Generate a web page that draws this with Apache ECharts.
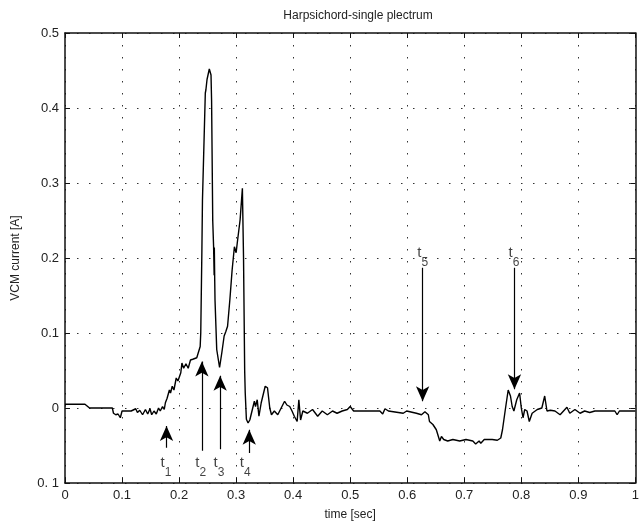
<!DOCTYPE html>
<html>
<head>
<meta charset="utf-8">
<script src="https://cdn.jsdelivr.net/npm/echarts@6/dist/echarts.min.js"></script>
<style>
html,body{margin:0;padding:0;background:#fff;}
#chart{width:642px;height:527px;}
</style>
</head>
<body>
<div id="chart"></div>
<script>
// ---- data ----
var timeVals = [
0.000,0.035,0.043,0.083,0.085,0.089,0.093,0.097,0.100,0.107,0.116,0.124,0.127,0.131,0.136,0.141,0.145,0.149,0.152,0.156,
0.160,0.164,0.167,0.171,0.174,0.176,0.179,0.183,0.185,0.188,0.191,0.195,0.198,0.203,0.205,0.208,0.212,0.216,0.220,0.224,
0.227,0.231,0.234,0.237,0.238,0.240,0.241,0.246,0.247,0.249,0.253,0.256,0.257,0.259,0.2605,0.2615,0.2618,0.2625,0.263,0.265,
0.266,0.271,0.275,0.279,0.282,0.285,0.289,0.293,0.297,0.300,0.302,0.307,0.311,0.313,0.315,0.316,0.318,0.321,0.324,0.327,
0.332,0.334,0.337,0.340,0.344,0.351,0.355,0.359,0.362,0.367,0.373,0.379,0.385,0.389,0.394,0.398,0.402,0.407,0.410,0.413,
0.417,0.425,0.434,0.443,0.451,0.460,0.469,0.477,0.486,0.495,0.500,0.506,0.530,0.552,0.557,0.561,0.567,0.593,0.599,0.616,
0.625,0.631,0.637,0.639,0.645,0.648,0.651,0.654,0.657,0.660,0.664,0.671,0.680,0.692,0.703,0.715,0.720,0.726,0.729,0.735,
0.749,0.758,0.764,0.767,0.772,0.777,0.781,0.784,0.787,0.792,0.797,0.800,0.803,0.806,0.810,0.814,0.819,0.828,0.836,0.841,
0.845,0.851,0.859,0.868,0.874,0.880,0.885,0.894,0.903,0.911,0.920,0.929,0.964,0.968,0.972,1.000
];
var currentVals = [
0.005,0.005,0.000,0.000,-0.007,-0.009,-0.008,-0.013,-0.004,-0.004,-0.004,-0.001,-0.006,-0.003,-0.009,-0.002,-0.008,-0.001,-0.009,-0.004,
-0.008,0.000,-0.004,0.002,-0.002,0.007,0.013,0.024,0.020,0.029,0.024,0.040,0.036,0.047,0.060,0.053,0.059,0.053,0.064,0.065,
0.063,0.067,0.069,0.082,0.100,0.210,0.277,0.420,0.424,0.438,0.452,0.444,0.410,0.250,0.216,0.177,0.214,0.170,0.144,0.100,
0.078,0.054,0.074,0.096,0.102,0.109,0.144,0.184,0.215,0.207,0.220,0.251,0.293,0.200,0.050,0.020,-0.015,-0.020,-0.016,-0.016,
0.009,0.002,0.011,-0.011,0.007,0.029,0.027,0.000,-0.009,-0.004,-0.009,0.000,0.009,0.004,0.002,-0.004,-0.011,-0.018,0.011,-0.016,
-0.004,-0.007,-0.002,-0.011,-0.004,-0.009,-0.004,-0.007,-0.004,-0.002,0.002,-0.004,-0.004,-0.004,-0.008,-0.001,-0.004,-0.007,-0.004,-0.007,
-0.009,-0.005,-0.009,-0.018,-0.022,-0.024,-0.029,-0.027,-0.044,-0.038,-0.042,-0.044,-0.042,-0.044,-0.042,-0.044,-0.048,-0.044,-0.047,-0.042,
-0.042,-0.043,-0.040,-0.029,-0.002,0.024,0.016,0.002,-0.004,0.011,0.020,0.000,-0.013,-0.002,-0.004,-0.018,-0.007,-0.002,0.000,0.016,
-0.004,-0.003,-0.004,-0.009,-0.004,0.001,-0.007,-0.002,-0.007,-0.004,-0.006,-0.004,-0.004,-0.009,-0.004,-0.004
];
var xTicks = [0,0.1,0.2,0.3,0.4,0.5,0.6,0.7,0.8,0.9,1];
var yTicks = [-0.1,0,0.1,0.2,0.3,0.4,0.5];
var yTickLabels = ['0. 1','0','0.1','0.2','0.3','0.4','0.5'];

// annotation arrows (t1..t6)
var arrowX    = [0.178, 0.240, 0.272, 0.323, 0.627, 0.788];
var arrowFrom = [-0.053, -0.057, -0.055, -0.060, 0.187, 0.187];
var arrowTo   = [-0.024, 0.062, 0.043, -0.029, 0.009, 0.025];
var labelX    = [0.177, 0.238, 0.270, 0.316, 0.627, 0.787];
var labelY    = [-0.074, -0.074, -0.074, -0.074, 0.206, 0.206];
var labelSub  = ['1','2','3','4','5','6'];

// ---- build ----
var lineData = timeVals.map(function(t,i){return [t,currentVals[i]];});
var arrowData = arrowX.map(function(x,i){
  return [{coord:[x,arrowFrom[i]]},{coord:[x,arrowTo[i]]}];
});
var labelData = labelX.map(function(x,i){return {value:[x,labelY[i]], sub:labelSub[i]};});

var FONT = "'Liberation Sans', Arial, Helvetica, sans-serif";
var dotted = {show:true, lineStyle:{color:'#333', width:1, type:[1.5,10.5]}};

function xFmt(v){
  for (var i=0;i<xTicks.length;i++){ if (Math.abs(v-xTicks[i])<1e-6) return String(xTicks[i]); }
  return '';
}
function yFmt(v){
  for (var i=0;i<yTicks.length;i++){ if (Math.abs(v-yTicks[i])<1e-6) return yTickLabels[i]; }
  return '';
}

var chart = echarts.init(document.getElementById('chart'), null, {renderer:'canvas'});
chart.setOption({
  animation:false,
  backgroundColor:'#fff',
  title:{
    text:'Harpsichord-single plectrum',
    left:353, top:5, textAlign:'center',
    textStyle:{fontFamily:FONT, fontSize:12, fontWeight:'normal', color:'#222'}
  },
  grid:{left:65, right:1, top:33, bottom:44, containLabel:false},
  xAxis:[{
    type:'value', min:0, max:1, interval:0.1, position:'bottom',
    name:'time [sec]', nameLocation:'middle', nameGap:26,
    nameTextStyle:{fontFamily:FONT, fontSize:12, color:'#222'},
    axisLine:{show:true, onZero:false, lineStyle:{color:'#111', width:1.5}},
    axisTick:{show:true, inside:true, length:5, lineStyle:{color:'#111'}},
    axisLabel:{formatter:xFmt, fontFamily:FONT, fontSize:13, color:'#222', margin:6},
    splitLine:dotted
  },{
    type:'value', min:0, max:1, interval:0.1, position:'top',
    axisLine:{show:true, onZero:false, lineStyle:{color:'#111', width:1.5}},
    axisTick:{show:true, inside:true, length:5, lineStyle:{color:'#111'}},
    axisLabel:{show:false}, splitLine:{show:false}
  }],
  yAxis:[{
    type:'value', min:-0.1, max:0.5, interval:0.1, position:'left',
    name:'VCM current [A]', nameLocation:'middle', nameGap:43, nameRotate:90,
    nameTextStyle:{fontFamily:FONT, fontSize:12, color:'#222'},
    axisLine:{show:true, onZero:false, lineStyle:{color:'#111', width:1.5}},
    axisTick:{show:true, inside:true, length:5, lineStyle:{color:'#111'}},
    axisLabel:{formatter:yFmt, fontFamily:FONT, fontSize:13, color:'#222', margin:6},
    splitLine:dotted
  },{
    type:'value', min:-0.1, max:0.5, interval:0.1, position:'right',
    axisLine:{show:true, onZero:false, lineStyle:{color:'#111', width:1.5}},
    axisTick:{show:true, inside:true, length:5, lineStyle:{color:'#111'}},
    axisLabel:{show:false}, splitLine:{show:false}
  }],
  series:[{
    name:'VCM current', type:'line', data:lineData, showSymbol:false,
    lineStyle:{color:'#000', width:1.4}, itemStyle:{color:'#000'},
    markLine:{
      silent:true, symbol:['none','arrow'], symbolSize:[10,15],
      lineStyle:{color:'#000', width:1.2, type:'solid'},
      label:{show:false}, emphasis:{disabled:true},
      data:arrowData
    },
    z:3
  },{
    name:'labels', type:'scatter', data:labelData, symbolSize:0, silent:true,
    label:{
      show:true, position:'inside', color:'#111',
      formatter:function(p){return '{t|t}{s|'+p.data.sub+'}';},
      rich:{
        t:{fontFamily:FONT, fontSize:15, color:'#111', verticalAlign:'top', lineHeight:16},
        s:{fontFamily:FONT, fontSize:12, color:'#111', verticalAlign:'top', padding:[11,0,0,0], lineHeight:13}
      }
    }
  }]
});
</script>
</body>
</html>
